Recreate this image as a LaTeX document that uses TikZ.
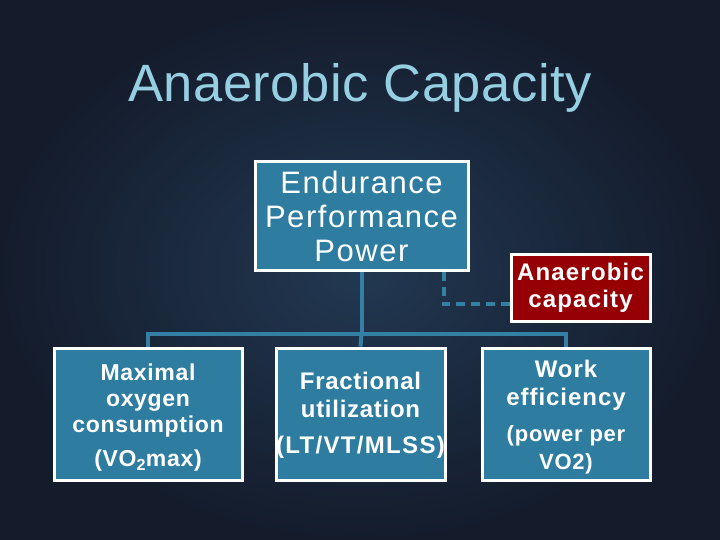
\documentclass[tikz,border=0pt]{standalone}
\usepackage{fontspec}
\setmainfont{Liberation Sans}
\usetikzlibrary{calc}
\definecolor{bgin}{RGB}{34,56,82}
\definecolor{bgout}{RGB}{20,28,44}
\definecolor{boxblue}{RGB}{46,125,160}
\definecolor{linkblue}{RGB}{52,128,165}
\definecolor{darkred}{RGB}{150,0,4}
\definecolor{titleblue}{RGB}{150,206,226}
\tikzset{
  box/.style={draw=white, line width=3pt, fill=boxblue, text=white, align=center, inner sep=0pt},
  redbox/.style={box, fill=darkred},
  txt/.style={text=white, align=center, inner sep=0pt},
  link/.style={draw=linkblue, line width=4pt},
  dlink/.style={link, dash pattern=on 9pt off 6pt}
}
\newcommand{\ls}[1]{\addfontfeature{LetterSpace=#1}}
\begin{document}
\begin{tikzpicture}[x=1pt,y=-1pt]
\shade[inner color=bgin, outer color=bgout] (0,0) rectangle (720,540);
\useasboundingbox (0,0) rectangle (720,540);
\node[text=titleblue, font=\fontsize{52.5}{60}\selectfont\ls{1}] (title) at (360,88) {Anaerobic Capacity};
\node[box, minimum width=213pt, minimum height=108pt, font=\fontsize{31}{34}\selectfont\ls{5}] (top) at (361.5,216) {Endurance\\Performance\\Power};
\node[redbox, minimum width=139pt, minimum height=67pt, font=\bfseries\fontsize{24}{27}\selectfont\ls{5}] (anaer) at (580.5,287.5) {Anaerobic\\capacity};
\node[box, minimum width=188pt, minimum height=132pt] (left) at (148,414) {};
\node[box, minimum width=169pt, minimum height=132pt] (mid) at (360.5,414) {};
\node[box, minimum width=168pt, minimum height=132pt] (right) at (566,414) {};
\node[txt, font=\bfseries\fontsize{23}{26}\selectfont\ls{3}] (lefttext) at (148,418) {Maximal\\oxygen\\consumption\\[8pt](VO\textsubscript{2}max)};
\node[txt, font=\bfseries\fontsize{24}{28}\selectfont\ls{3}] (midtext) at (360.5,415) {Fractional\\utilization\\[8pt]\makebox[0pt][c]{\fontsize{24}{28}\selectfont\ls{5.5}(LT/VT/MLSS)}};
\node[txt, font=\bfseries\fontsize{24}{28}\selectfont\ls{4}] (righttext) at (566,417.5) {Work\\efficiency\\[8pt]{\fontsize{22}{25}\selectfont\ls{3.5}(power per}\\{\fontsize{22}{25}\selectfont\ls{3.5}VO2)}};
\path (top.south) ++(0,62) coordinate (j);
\draw[link] (top.south) -- (j);
\draw[link] (left.north) |- (j) -| (right.north);
\draw[link] (j) -- (mid.north);
\draw[dlink] ([xshift=-26pt]top.south east) |- ([yshift=-16.5pt]anaer.west);
\end{tikzpicture}
\end{document}
